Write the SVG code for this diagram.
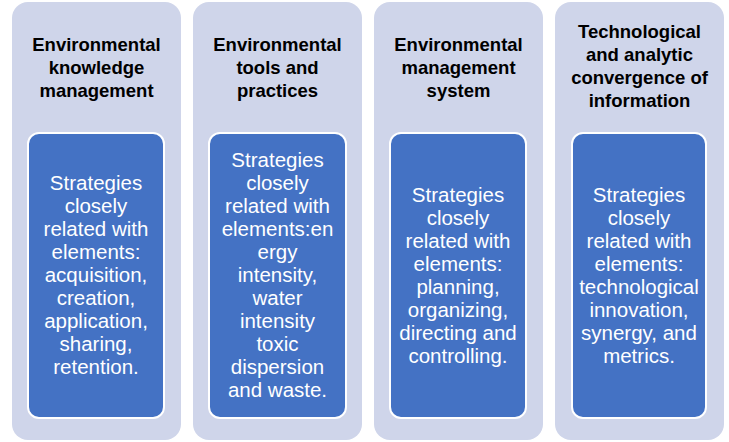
<svg xmlns="http://www.w3.org/2000/svg" width="729" height="442" viewBox="0 0 729 442">
<style>
.outer{fill:#CFD5EA;}
.inner{fill:#4472C4;stroke:#FFFFFF;stroke-width:2;}
.title{font-family:"Liberation Sans",Arial,sans-serif;font-size:18.5px;font-weight:bold;fill:#000000;text-anchor:middle;}
.body{font-family:"Liberation Sans",Arial,sans-serif;font-size:20.5px;fill:#FFFFFF;text-anchor:middle;}
</style>
<rect width="729" height="442" fill="#FFFFFF"/>
<g id="node1">
<rect class="outer" x="12" y="2" width="169" height="438" rx="16"/>
<text class="title" x="96.5"><tspan x="96.5" y="50.5">Environmental</tspan><tspan x="96.5" y="73.5">knowledge</tspan><tspan x="96.5" y="96.5">management</tspan></text>
<rect class="inner" x="28" y="133" width="136" height="285" rx="11"/>
<text class="body" x="96"><tspan x="96" y="190">Strategies</tspan><tspan x="96" y="213">closely</tspan><tspan x="96" y="236">related with</tspan><tspan x="96" y="259">elements:</tspan><tspan x="96" y="282">acquisition,</tspan><tspan x="96" y="305">creation,</tspan><tspan x="96" y="328">application,</tspan><tspan x="96" y="351">sharing,</tspan><tspan x="96" y="374">retention.</tspan></text>
</g>
<g id="node2">
<rect class="outer" x="193" y="2" width="169" height="438" rx="16"/>
<text class="title" x="277.5"><tspan x="277.5" y="50.5">Environmental</tspan><tspan x="277.5" y="73.5">tools and</tspan><tspan x="277.5" y="96.5">practices</tspan></text>
<rect class="inner" x="209" y="133" width="137" height="285" rx="11"/>
<text class="body" x="277.5"><tspan x="277.5" y="167">Strategies</tspan><tspan x="277.5" y="190">closely</tspan><tspan x="277.5" y="213">related with</tspan><tspan x="277.5" y="236">elements:en</tspan><tspan x="277.5" y="259">ergy</tspan><tspan x="277.5" y="282">intensity,</tspan><tspan x="277.5" y="305">water</tspan><tspan x="277.5" y="328">intensity</tspan><tspan x="277.5" y="351">toxic</tspan><tspan x="277.5" y="374">dispersion</tspan><tspan x="277.5" y="397">and waste.</tspan></text>
</g>
<g id="node3">
<rect class="outer" x="374" y="2" width="169" height="438" rx="16"/>
<text class="title" x="458.5"><tspan x="458.5" y="50.5">Environmental</tspan><tspan x="458.5" y="73.5">management</tspan><tspan x="458.5" y="96.5">system</tspan></text>
<rect class="inner" x="390" y="133" width="136" height="285" rx="11"/>
<text class="body" x="458"><tspan x="458" y="201.5">Strategies</tspan><tspan x="458" y="224.5">closely</tspan><tspan x="458" y="247.5">related with</tspan><tspan x="458" y="270.5">elements:</tspan><tspan x="458" y="293.5">planning,</tspan><tspan x="458" y="316.5">organizing,</tspan><tspan x="458" y="339.5">directing and</tspan><tspan x="458" y="362.5">controlling.</tspan></text>
</g>
<g id="node4">
<rect class="outer" x="555" y="2" width="169" height="438" rx="16"/>
<text class="title" x="639.5"><tspan x="639.5" y="38">Technological</tspan><tspan x="639.5" y="61">and analytic</tspan><tspan x="639.5" y="84">convergence of</tspan><tspan x="639.5" y="107">information</tspan></text>
<rect class="inner" x="572" y="133" width="134" height="285" rx="11"/>
<text class="body" x="639"><tspan x="639" y="201.5">Strategies</tspan><tspan x="639" y="224.5">closely</tspan><tspan x="639" y="247.5">related with</tspan><tspan x="639" y="270.5">elements:</tspan><tspan x="639" y="293.5">technological</tspan><tspan x="639" y="316.5">innovation,</tspan><tspan x="639" y="339.5">synergy, and</tspan><tspan x="639" y="362.5">metrics.</tspan></text>
</g>
<g id="connectors"></g>
</svg>
